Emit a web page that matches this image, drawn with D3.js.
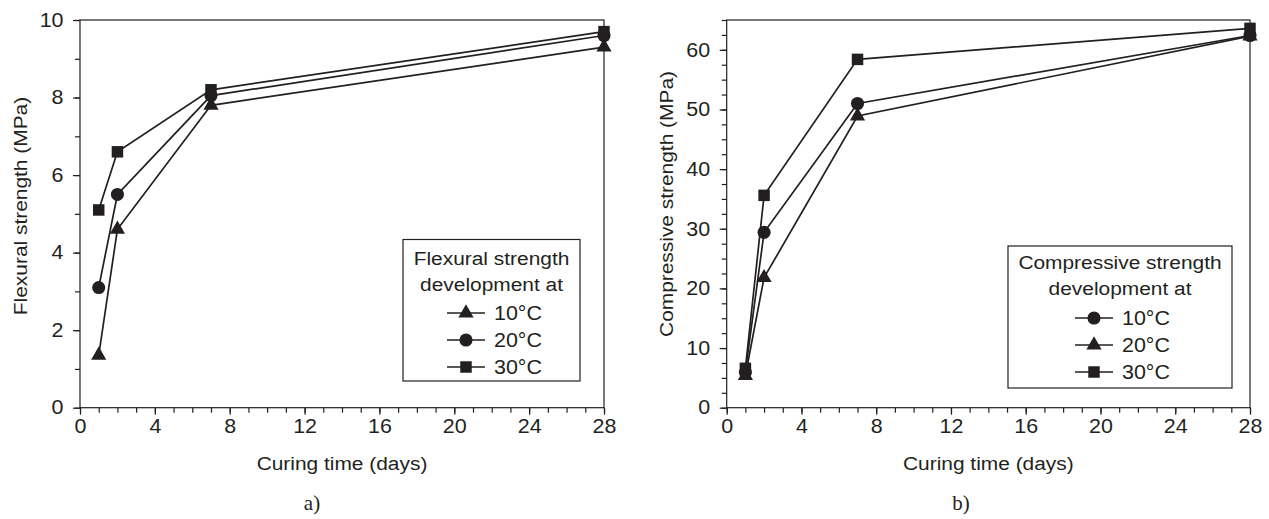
<!DOCTYPE html>
<html>
<head>
<meta charset="utf-8">
<script src="https://cdn.jsdelivr.net/npm/d3@7"></script>
<style>
  body { margin: 0; background: #fff; }
  svg { display: block; }
</style>
</head>
<body>
<script>
// curing time (days) on both panels
var days = [1, 2, 7, 28];

// a) flexural strength, MPa
var flex10 = [1.35, 4.6, 7.8, 9.3];
var flex20 = [3.1, 5.5, 8.05, 9.6];
var flex30 = [5.1, 6.6, 8.2, 9.7];

// b) compressive strength, MPa
var comp10 = [6.0, 29.4, 51.0, 62.4];
var comp20 = [5.4, 21.8, 48.9, 62.3];
var comp30 = [6.6, 35.6, 58.4, 63.6];

var tempLabels = ["10°C", "20°C", "30°C"];
var xTicks = [0, 4, 8, 12, 16, 20, 24, 28];
var flexTicks = [0, 2, 4, 6, 8, 10];
var compTicks = [0, 10, 20, 30, 40, 50, 60];

var ink = "#231f20";
var font = "'Liberation Sans', Arial, sans-serif";
var stretch = "scale(1.1,1)";

var svg = d3.select("body").append("svg").attr("width", 1269).attr("height", 519);

// marker path for a shape name
function marker(shape) {
  if (shape == "square") return d3.symbol(d3.symbolSquare, 132)();
  if (shape == "circle") return d3.symbol(d3.symbolCircle, 135)();
  return d3.symbol(d3.symbolTriangle, 100)();
}

function panel(p) {
  var x = d3.scaleLinear().domain([0, 28]).range([p.left, p.right]);
  var y = d3.scaleLinear().domain([0, p.yMax]).range([p.bottom, p.top]);
  var g = svg.append("g");

  // minor ticks
  g.append("g").attr("transform", "translate(0," + p.bottom + ")")
    .call(d3.axisBottom(x).tickValues(d3.range(0, 29, 1)).tickFormat("").tickSize(5).tickSizeOuter(0))
    .call(function(a){ a.select(".domain").remove(); });
  g.append("g").attr("transform", "translate(" + p.left + ",0)")
    .call(d3.axisLeft(y).tickValues(d3.range(0, p.yMax + 0.01, p.yMinor)).tickFormat("").tickSize(5).tickSizeOuter(0))
    .call(function(a){ a.select(".domain").remove(); });

  // major ticks with labels
  g.append("g").attr("transform", "translate(0," + p.bottom + ")")
    .call(d3.axisBottom(x).tickValues(xTicks).tickSize(7).tickSizeOuter(0).tickPadding(4));
  g.append("g").attr("transform", "translate(" + p.left + ",0)")
    .call(d3.axisLeft(y).tickValues(p.yTicks).tickSize(7).tickSizeOuter(0).tickPadding(8));
  g.selectAll(".tick line").attr("stroke", ink).attr("stroke-width", 1.2);
  g.selectAll(".domain").remove();
  g.selectAll(".tick text").attr("fill", ink).style("font-family", font).style("font-size", "19.5px")
    .attr("transform", stretch);

  // frame
  g.append("rect").attr("x", p.left).attr("y", p.top)
    .attr("width", p.right - p.left).attr("height", p.bottom - p.top)
    .attr("fill", "none").attr("stroke", ink).attr("stroke-width", 1.2);

  // series
  var line = d3.line().x(function(d){ return x(d[0]); }).y(function(d){ return y(d[1]); });
  p.series.forEach(function(s) {
    var pts = days.map(function(d, i){ return [d, s.vals[i]]; });
    g.append("path").datum(pts).attr("d", line)
      .attr("fill", "none").attr("stroke", ink).attr("stroke-width", 1.7);
    g.selectAll(null).data(pts).enter().append("path")
      .attr("d", marker(s.shape))
      .attr("transform", function(d){ return "translate(" + x(d[0]) + "," + y(d[1]) + ")"; })
      .attr("fill", ink);
  });

  // axis titles
  g.append("text")
    .attr("transform", "translate(" + (p.left + p.right) / 2 + ",470) " + stretch)
    .attr("text-anchor", "middle").attr("fill", ink)
    .style("font-family", font).style("font-size", "19px")
    .text("Curing time (days)");
  g.append("text")
    .attr("transform", "translate(" + p.yTitleX + "," + p.yTitleY + ") rotate(-90) " + stretch)
    .attr("text-anchor", "middle").attr("fill", ink)
    .style("font-family", font).style("font-size", "19px")
    .text(p.yTitle);

  // panel tag
  g.append("text").attr("x", p.tagX).attr("y", 510)
    .attr("text-anchor", "middle").attr("fill", ink)
    .style("font-family", "'Liberation Serif', 'Times New Roman', serif").style("font-size", "21px")
    .text(p.tag);

  // legend
  var L = p.legend;
  g.append("rect").attr("x", L.x0).attr("y", L.y0)
    .attr("width", L.x1 - L.x0).attr("height", L.y1 - L.y0)
    .attr("fill", "#fff").attr("stroke", ink).attr("stroke-width", 1.2);
  L.title.forEach(function(t, i) {
    g.append("text")
      .attr("transform", "translate(" + (L.x0 + L.x1) / 2 + "," + (L.titleY + i * 26) + ") " + stretch)
      .attr("text-anchor", "middle").attr("fill", ink)
      .style("font-family", font).style("font-size", "19px")
      .text(t);
  });
  L.order.forEach(function(si, i) {
    var cy = L.rowY + i * 27;
    g.append("line").attr("x1", L.lineX).attr("x2", L.lineX + 38)
      .attr("y1", cy).attr("y2", cy).attr("stroke", ink).attr("stroke-width", 1.7);
    g.append("path").attr("d", marker(p.series[si].shape))
      .attr("transform", "translate(" + (L.lineX + 19) + "," + cy + ")").attr("fill", ink);
    g.append("text")
      .attr("transform", "translate(" + (L.lineX + 47) + "," + (cy + 7) + ") " + stretch)
      .attr("fill", ink).style("font-family", font).style("font-size", "19.5px")
      .text(tempLabels[si]);
  });
}

panel({
  left: 80, right: 604, top: 20, bottom: 407.7, yMax: 10, yTicks: flexTicks, yMinor: 1,
  series: [
    { vals: flex10, shape: "triangle" },
    { vals: flex20, shape: "circle" },
    { vals: flex30, shape: "square" }
  ],
  yTitle: "Flexural strength (MPa)", yTitleX: 27, yTitleY: 206,
  tag: "a)", tagX: 312,
  legend: { x0: 403, x1: 580, y0: 239.5, y1: 381, titleY: 265, rowY: 313, lineX: 447,
            title: ["Flexural strength", "development at"], order: [0, 1, 2] }
});

panel({
  left: 726.7, right: 1250, top: 20, bottom: 407.7, yMax: 65, yTicks: compTicks, yMinor: 2.5,
  series: [
    { vals: comp10, shape: "circle" },
    { vals: comp20, shape: "triangle" },
    { vals: comp30, shape: "square" }
  ],
  yTitle: "Compressive strength (MPa)", yTitleX: 673, yTitleY: 204,
  tag: "b)", tagX: 961,
  legend: { x0: 1008, x1: 1232, y0: 246, y1: 388, titleY: 269, rowY: 318, lineX: 1075,
            title: ["Compressive strength", "development at"], order: [0, 1, 2] }
});
</script>
</body>
</html>
